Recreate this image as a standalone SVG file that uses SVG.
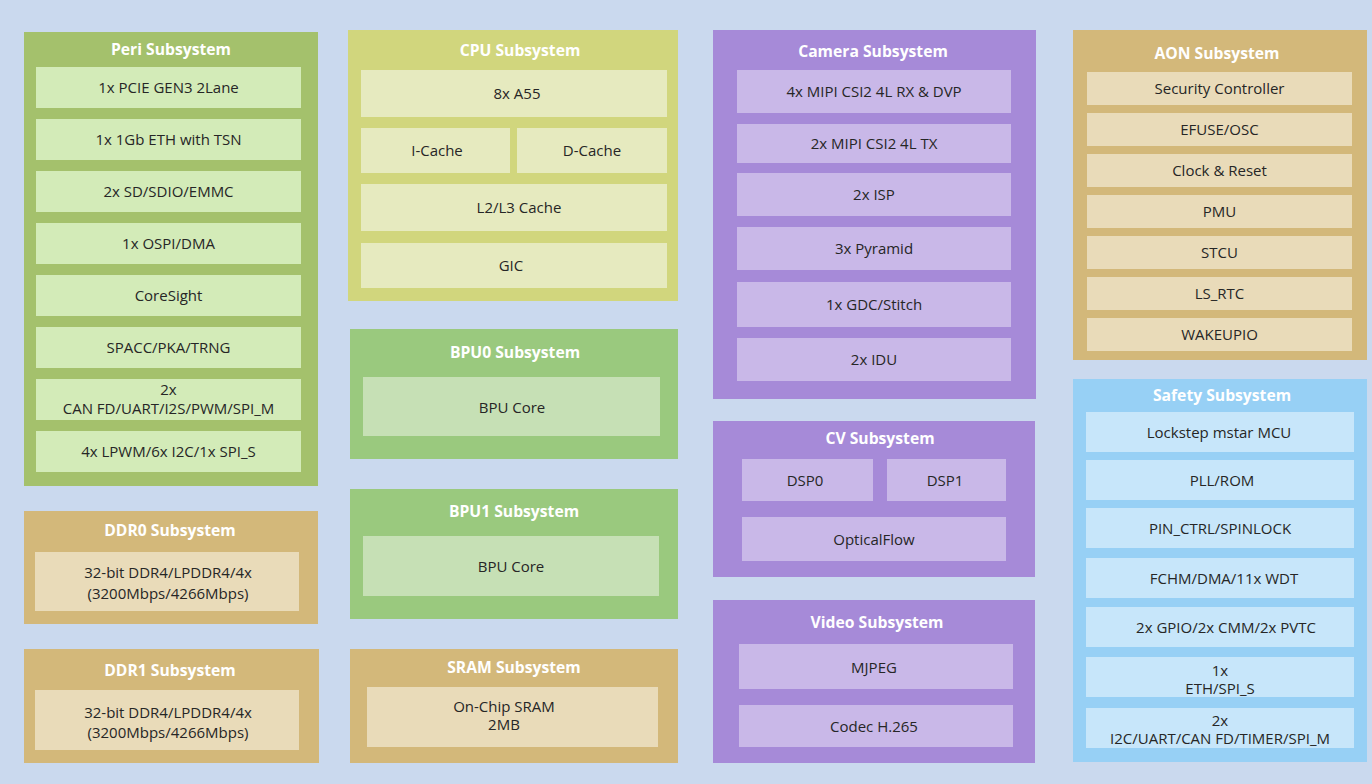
<svg xmlns="http://www.w3.org/2000/svg" width="1372" height="784" viewBox="0 0 1372 784">
<style>
.t{font-family:"Open Sans","Liberation Sans",sans-serif;font-weight:bold;font-size:15.7px;fill:#ffffff;text-anchor:middle;dominant-baseline:central}
.l{font-family:"Open Sans","Liberation Sans",sans-serif;font-size:15px;fill:#262626;text-anchor:middle;dominant-baseline:central}
.po{fill:#a4c16c}.pi{fill:#d3ebb8}
.co{fill:#d1d67d}.ci{fill:#e6eabf}
.bo{fill:#9ac97e}.bi{fill:#c6e0b5}
.do{fill:#d3b87a}.di{fill:#e9dbb9}
.vo{fill:#a68ad8}.vi{fill:#c9b8e8}
.so{fill:#97d0f5}.si{fill:#c7e6fa}
</style>
<rect width="1372" height="784" fill="#cad9ee"/>
<g id="connectors"/>

<g id="peri">
<rect class="po" x="24" y="32" width="294" height="454"/>
<text class="t" x="171" y="48.5">Peri Subsystem</text>
<rect class="pi" x="36" y="67" width="265" height="41"/><text class="l" x="168.5" y="87">1x PCIE GEN3 2Lane</text>
<rect class="pi" x="36" y="119" width="265" height="41"/><text class="l" x="168.5" y="139">1x 1Gb ETH with TSN</text>
<rect class="pi" x="36" y="171" width="265" height="41"/><text class="l" x="168.5" y="191">2x SD/SDIO/EMMC</text>
<rect class="pi" x="36" y="223" width="265" height="41"/><text class="l" x="168.5" y="243">1x OSPI/DMA</text>
<rect class="pi" x="36" y="275" width="265" height="41"/><text class="l" x="168.5" y="295">CoreSight</text>
<rect class="pi" x="36" y="327" width="265" height="41"/><text class="l" x="168.5" y="347">SPACC/PKA/TRNG</text>
<rect class="pi" x="36" y="379" width="265" height="41"/><text class="l" x="168.5" y="389">2x</text><text class="l" x="168.5" y="407.5">CAN FD/UART/I2S/PWM/SPI_M</text>
<rect class="pi" x="36" y="431" width="265" height="41"/><text class="l" x="168.5" y="451">4x LPWM/6x I2C/1x SPI_S</text>
</g>

<g id="ddr0">
<rect class="do" x="24" y="511" width="294" height="113"/>
<text class="t" x="170" y="529.5">DDR0 Subsystem</text>
<rect class="di" x="35" y="552" width="264" height="59"/>
<text class="l" x="168" y="572">32-bit DDR4/LPDDR4/4x</text>
<text class="l" x="168" y="593">(3200Mbps/4266Mbps)</text>
</g>

<g id="ddr1">
<rect class="do" x="24" y="649" width="295" height="114"/>
<text class="t" x="170" y="669.5">DDR1 Subsystem</text>
<rect class="di" x="35" y="690" width="264" height="60"/>
<text class="l" x="168" y="711.5">32-bit DDR4/LPDDR4/4x</text>
<text class="l" x="168" y="732">(3200Mbps/4266Mbps)</text>
</g>

<g id="cpu">
<rect class="co" x="348" y="30" width="330" height="271"/>
<text class="t" x="520" y="49.5">CPU Subsystem</text>
<rect class="ci" x="361" y="70" width="306" height="47"/><text class="l" x="517" y="92.5">8x A55</text>
<rect class="ci" x="361" y="128" width="149" height="45"/><text class="l" x="437" y="149.5">I-Cache</text>
<rect class="ci" x="517" y="128" width="150" height="45"/><text class="l" x="592" y="149.5">D-Cache</text>
<rect class="ci" x="361" y="184" width="306" height="47"/><text class="l" x="519" y="206.5">L2/L3 Cache</text>
<rect class="ci" x="361" y="243" width="306" height="45"/><text class="l" x="511" y="264.5">GIC</text>
</g>

<g id="bpu0">
<rect class="bo" x="350" y="329" width="328" height="130"/>
<text class="t" x="515" y="351.5">BPU0 Subsystem</text>
<rect class="bi" x="363" y="377" width="297" height="59"/>
<text class="l" x="512" y="406.5">BPU Core</text>
</g>

<g id="bpu1">
<rect class="bo" x="350" y="489" width="328" height="130"/>
<text class="t" x="514" y="510.5">BPU1 Subsystem</text>
<rect class="bi" x="363" y="536" width="296" height="60"/>
<text class="l" x="511" y="565.5">BPU Core</text>
</g>

<g id="sram">
<rect class="do" x="350" y="649" width="328" height="114"/>
<text class="t" x="514" y="666.5">SRAM Subsystem</text>
<rect class="di" x="367" y="687" width="291" height="60"/>
<text class="l" x="504" y="705.5">On-Chip SRAM</text>
<text class="l" x="504" y="724">2MB</text>
</g>

<g id="camera">
<rect class="vo" x="713" y="30" width="323" height="369"/>
<text class="t" x="873" y="50.5">Camera Subsystem</text>
<rect class="vi" x="737" y="70" width="274" height="43"/><text class="l" x="874" y="91">4x MIPI CSI2 4L RX &amp; DVP</text>
<rect class="vi" x="737" y="124" width="274" height="39"/><text class="l" x="874" y="143">2x MIPI CSI2 4L TX</text>
<rect class="vi" x="737" y="173" width="274" height="43"/><text class="l" x="874" y="194">2x ISP</text>
<rect class="vi" x="737" y="227" width="274" height="43"/><text class="l" x="874" y="248">3x Pyramid</text>
<rect class="vi" x="737" y="282" width="274" height="45"/><text class="l" x="874" y="304">1x GDC/Stitch</text>
<rect class="vi" x="737" y="338" width="274" height="43"/><text class="l" x="874" y="359">2x IDU</text>
</g>

<g id="cv">
<rect class="vo" x="713" y="421" width="322" height="156"/>
<text class="t" x="880" y="438">CV Subsystem</text>
<rect class="vi" x="742" y="459" width="131" height="42"/><text class="l" x="805" y="479.5">DSP0</text>
<rect class="vi" x="887" y="459" width="119" height="42"/><text class="l" x="945" y="479.5">DSP1</text>
<rect class="vi" x="742" y="517" width="264" height="44"/><text class="l" x="874" y="538.5">OpticalFlow</text>
</g>

<g id="video">
<rect class="vo" x="713" y="600" width="322" height="163"/>
<text class="t" x="877" y="621.5">Video Subsystem</text>
<rect class="vi" x="739" y="644" width="274" height="45"/><text class="l" x="874" y="666.5">MJPEG</text>
<rect class="vi" x="739" y="705" width="274" height="42"/><text class="l" x="874" y="725.5">Codec H.265</text>
</g>

<g id="aon">
<rect class="do" x="1073" y="30" width="294" height="330"/>
<text class="t" x="1217" y="53">AON Subsystem</text>
<rect class="di" x="1087" y="72" width="265" height="33"/><text class="l" x="1219.5" y="88">Security Controller</text>
<rect class="di" x="1087" y="113" width="265" height="33"/><text class="l" x="1219.5" y="129">EFUSE/OSC</text>
<rect class="di" x="1087" y="154" width="265" height="33"/><text class="l" x="1219.5" y="170">Clock &amp; Reset</text>
<rect class="di" x="1087" y="195" width="265" height="33"/><text class="l" x="1219.5" y="211">PMU</text>
<rect class="di" x="1087" y="236" width="265" height="33"/><text class="l" x="1219.5" y="252">STCU</text>
<rect class="di" x="1087" y="277" width="265" height="33"/><text class="l" x="1219.5" y="293">LS_RTC</text>
<rect class="di" x="1087" y="318" width="265" height="33"/><text class="l" x="1219.5" y="334">WAKEUPIO</text>
</g>

<g id="safety">
<rect class="so" x="1073" y="379" width="294" height="383"/>
<text class="t" x="1222" y="394.5">Safety Subsystem</text>
<rect class="si" x="1086" y="412" width="268" height="40"/><text class="l" x="1219" y="431.5">Lockstep mstar MCU</text>
<rect class="si" x="1086" y="460" width="268" height="40"/><text class="l" x="1222" y="479.5">PLL/ROM</text>
<rect class="si" x="1086" y="508" width="268" height="40"/><text class="l" x="1220" y="527.5">PIN_CTRL/SPINLOCK</text>
<rect class="si" x="1086" y="558" width="268" height="40"/><text class="l" x="1224" y="577.5">FCHM/DMA/11x WDT</text>
<rect class="si" x="1086" y="607" width="268" height="40"/><text class="l" x="1226" y="626.5">2x GPIO/2x CMM/2x PVTC</text>
<rect class="si" x="1086" y="657" width="268" height="40"/><text class="l" x="1220" y="669.5">1x</text><text class="l" x="1220" y="688">ETH/SPI_S</text>
<rect class="si" x="1086" y="708" width="268" height="40"/><text class="l" x="1220" y="719.5">2x</text><text class="l" x="1220" y="738">I2C/UART/CAN FD/TIMER/SPI_M</text>
</g>
</svg>
